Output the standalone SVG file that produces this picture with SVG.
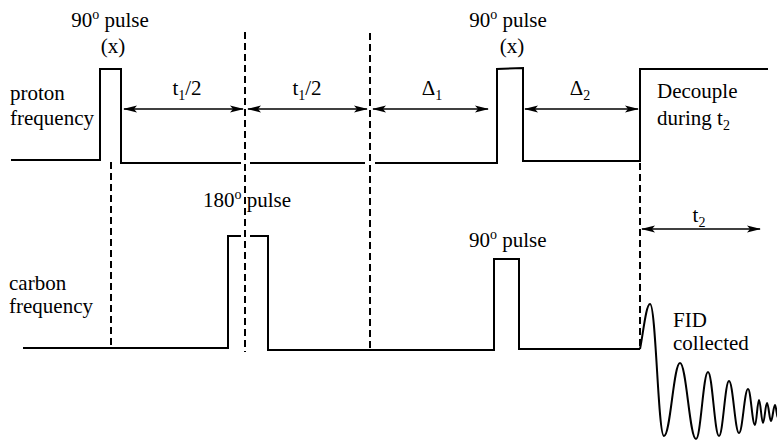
<svg xmlns="http://www.w3.org/2000/svg" width="777" height="442" viewBox="0 0 777 442">
<style>
text{font-family:"Liberation Serif","Times New Roman",serif;font-size:21px;fill:#000}
.sub{font-size:14px}
.sup{font-size:14px}
.w{fill:none;stroke:#000;stroke-width:2;stroke-linejoin:miter}
.d{fill:none;stroke:#000;stroke-width:2;stroke-dasharray:7,4}
.a{fill:none;stroke:#000;stroke-width:1.6;marker-start:url(#ah);marker-end:url(#ah)}
</style>
<defs>
<marker id="ah" viewBox="0 0 14 8" refX="13" refY="4" markerWidth="14" markerHeight="8" markerUnits="userSpaceOnUse" orient="auto-start-reverse">
<path d="M0,0.5 L14,4 L0,7.5 L3,4 Z" fill="#000"/>
</marker>
</defs>
<rect width="777" height="442" fill="#fff"/>
<g id="proton-channel">
<text x="10" y="100">proton</text>
<text x="10" y="125">frequency</text>
<path class="w" d="M11,160 H100 V69 H121 V163 H241 M250,163 H365 M375,163 H497 V69 L523,68 V161 H640 V69 H768"/>
</g>
<g id="proton-pulse1">
<text x="110" y="27" text-anchor="middle">90<tspan class="sup" dy="-8">o</tspan><tspan dy="8"> pulse</tspan></text>
<text x="113" y="53" text-anchor="middle">(x)</text>
</g>
<g id="proton-pulse2">
<text x="508" y="27" text-anchor="middle">90<tspan class="sup" dy="-8">o</tspan><tspan dy="8"> pulse</tspan></text>
<text x="512" y="53" text-anchor="middle">(x)</text>
</g>
<g id="decouple">
<text x="657" y="98">Decouple</text>
<text x="657" y="125">during t<tspan class="sub" dy="5">2</tspan></text>
</g>
<g id="carbon-channel">
<text x="9" y="290">carbon</text>
<text x="9" y="313">frequency</text>
<path class="w" d="M23,348 H228 V236 H241 M250,236 H268 V350 H494 V259 H519 V349 H640"/>
</g>
<g id="carbon-pulse180">
<text x="203" y="207">180<tspan class="sup" dy="-8">o</tspan><tspan dy="8"> pulse</tspan></text>
</g>
<g id="carbon-pulse90">
<text x="469" y="247">90<tspan class="sup" dy="-8">o</tspan><tspan dy="8"> pulse</tspan></text>
</g>
<g id="fid">
<path class="w" stroke-width="2" d="M640,349 C643,335 646,304 650,304 C656,304 658,436 664,436 C670.4,436 673.6,363 680,363 C686.4,363 689.6,439 696,439 C700.8,439 703.2,372 708,372 C712.4,372 714.6,436 719,436 C723,436 725,381 729,381 C733,381 735,433 739,433 C742.6,433 744.4,389 748,389 C750.8,389 752.2,425 755,425 C756.6,425 757.4,400 759,400 C760.6,400 761.4,423 763,423 C764.6,423 765.4,403 767,403 C768.6,403 769.4,421 771,421 C772.6,421 773.4,405 775,405 C776.2,405 776.8,418 778,418"/>
<text x="673" y="327">FID</text>
<text x="673" y="350">collected</text>
</g>
<g id="labels">
<text x="187" y="95" text-anchor="middle">t<tspan class="sub" dy="5">1</tspan><tspan dy="-5">/2</tspan></text>
<text x="307" y="95" text-anchor="middle">t<tspan class="sub" dy="5">1</tspan><tspan dy="-5">/2</tspan></text>
<text x="432" y="95" text-anchor="middle">Δ<tspan class="sub" dy="5">1</tspan></text>
<text x="580" y="95" text-anchor="middle">Δ<tspan class="sub" dy="5">2</tspan></text>
<text x="699" y="222" text-anchor="middle">t<tspan class="sub" dy="5">2</tspan></text>
</g>
<g id="connectors">
<line class="d" x1="245" y1="32" x2="245" y2="352"/>
<line class="d" x1="370" y1="33" x2="370" y2="352"/>
<line class="d" x1="111" y1="162" x2="111" y2="348"/>
<line class="d" x1="640" y1="163" x2="640" y2="349"/>
<line class="a" x1="124" y1="109" x2="243" y2="109"/>
<line class="a" x1="248" y1="109" x2="367" y2="109"/>
<line class="a" x1="373" y1="109" x2="488" y2="109"/>
<line class="a" x1="525" y1="109" x2="638" y2="109"/>
<line class="a" x1="642" y1="229" x2="760" y2="229"/>
</g>
</svg>
